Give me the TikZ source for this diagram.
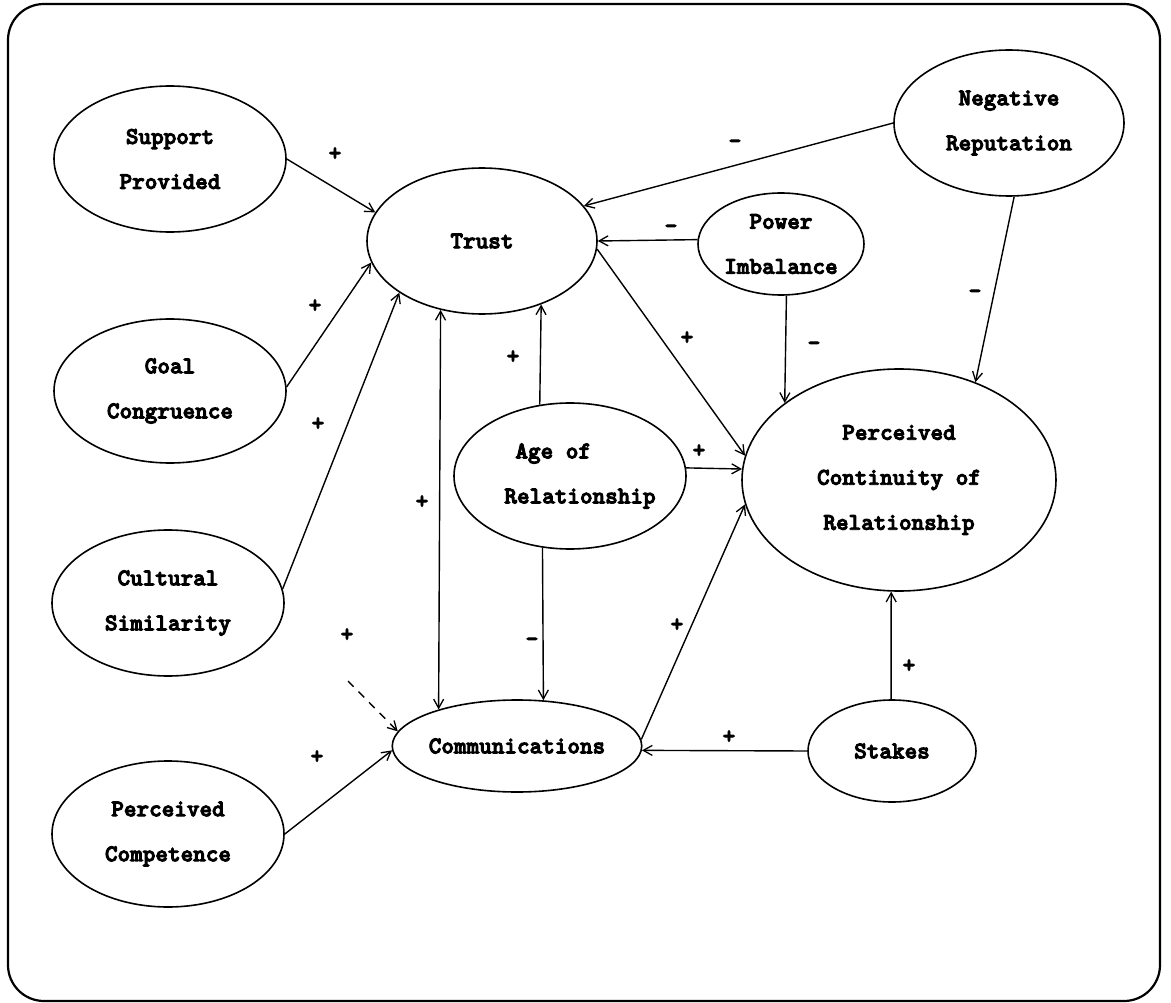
\documentclass[tikz,border=0pt]{standalone}
\usepackage{fontspec}
\usetikzlibrary{shapes.geometric,arrows.meta}
% heavy typewriter face for all lettering
\newfontfamily\heavytt{lmmonolt10-bold.otf}[FakeBold=4]
\begin{document}
\begin{tikzpicture}[x=1pt,y=-1pt,
  oval/.style={ellipse, draw, line width=1.6pt, inner sep=0pt, align=center,
    font=\heavytt\fontsize{24}{45}\selectfont},
  size/.style 2 args={minimum width=#1, minimum height=#2},
  sign/.style={inner sep=0pt, font=\heavytt\fontsize{24}{24}\selectfont},
  tip/.tip={Straight Barb[length=9pt,width=10pt,line width=1.3pt]},
  link/.style={line width=1.4pt, -tip},
  both/.style={line width=1.4pt, tip-tip},
]
\useasboundingbox (0,0) rectangle (1171,1003);

% outer frame
\draw[line width=2.2pt, rounded corners=36pt] (8,4) rectangle (1160,1001);

% constructs
\node[oval, size={232pt}{146pt}] (sup)    at (170,159) {Support\\Provided};
\node[oval, size={230pt}{146pt}] (trust)  at (482,241) {Trust};
\node[oval, size={232pt}{144pt}] (goal)   at (170,391) {Goal\\Congruence};
\node[oval, size={232pt}{146pt}] (cult)   at (168,603) {Cultural\\Similarity};
\node[oval, size={232pt}{146pt}] (comp)   at (168,834) {Perceived\\Competence};
\node[oval, size={230pt}{146pt}] (neg)    at (1009,123) {Negative\\Reputation};
\node[oval, size={166pt}{102pt}] (power)  at (781,244) {Power\\Imbalance};
\node[oval, size={232pt}{146pt}, align=left, inner xsep=-12pt] (age) at (570,476)
  {\hspace*{31pt}Age of\\\hspace*{20pt}Relationship};
\node[oval, size={248pt}{92pt}]  (comm)   at (517,746) {Communications};
\node[oval, size={168pt}{102pt}] (stakes) at (892,751) {Stakes};
\node[oval, size={314pt}{222pt}] (pcr)    at (899,480)
  {Perceived\\Continuity of\\Relationship};

% free start of the dashed link
\coordinate (dstart) at (348,681);

% links
\draw[link] (sup.east)   -- (trust.165);
\draw[link] (goal.2)     -- (trust.191);
\draw[link] (cult.7)     -- (trust.212);
\draw[both] (comm.155)   -- (trust.239);
\draw[link] (age.113)    -- (trust.313);
\draw[link] (age.249)    -- (comm.60);
\draw[link] (age.4)      -- (pcr.176);
\draw[link] (trust.356)  -- (pcr.171);
\draw[link] (power.177)  -- (trust.0);
\draw[link] (neg.west)   -- (trust.19);
\draw[link] (power.276)  -- (pcr.146);
\draw[link] (neg.274)    -- (pcr.52);
\draw[link] (comm.3)     -- (pcr.189);
\draw[link] (stakes.west) -- (comm.358);
\draw[link] (stakes.91)  -- (pcr.266);
\draw[link, dash pattern=on 8pt off 7pt] (dstart) -- (comm.173);
\draw[link] (comp.east)  -- (comm.182);

% signs
\node[sign] (s1)  at (335,154) {+};
\node[sign] (s2)  at (315,306) {+};
\node[sign] (s3)  at (318,424) {+};
\node[sign] (s4)  at (422,502) {+};
\node[sign] (s5)  at (513,357) {+};
\node[sign] (s6)  at (687,338) {+};
\node[sign] (s7)  at (699,451) {+};
\node[sign] (s8)  at (671,229) {-};
\node[sign] (s9)  at (735,144) {-};
\node[sign] (s10) at (814,346) {-};
\node[sign] (s11) at (975,294) {-};
\node[sign] (s12) at (532,642) {-};
\node[sign] (s13) at (677,625) {+};
\node[sign] (s14) at (729,737) {+};
\node[sign] (s15) at (909,666) {+};
\node[sign] (s16) at (347,635) {+};
\node[sign] (s17) at (317,757) {+};
\end{tikzpicture}
\end{document}
